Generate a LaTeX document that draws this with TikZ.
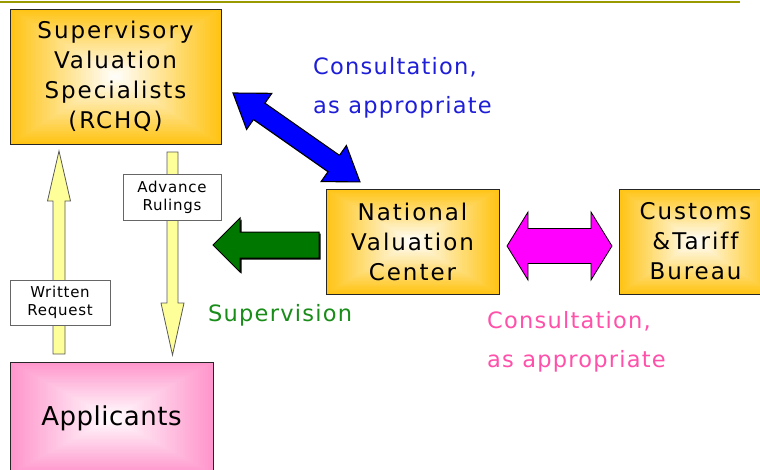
\documentclass[tikz,border=0pt]{standalone}
\usepackage{fontspec}
\setmainfont{DejaVu Sans}
\newfontfamily\boxfont[LetterSpace=8.5,Ligatures=NoCommon]{DejaVu Sans}
\newfontfamily\lblfont[LetterSpace=5.5,Ligatures=NoCommon]{DejaVu Sans}
\newfontfamily\smallfont[LetterSpace=5,Ligatures=NoCommon]{DejaVu Sans}
\newfontfamily\appfont[LetterSpace=2,Ligatures=NoCommon]{DejaVu Sans}
\usetikzlibrary{calc}
\definecolor{boxgold}{RGB}{255,196,20}
\definecolor{boxpink}{RGB}{255,150,204}
\definecolor{topolive}{RGB}{153,153,0}
\definecolor{paleyellow}{RGB}{255,255,153}
\definecolor{txtblue}{RGB}{30,30,215}
\definecolor{txtgreen}{RGB}{25,140,25}
\definecolor{txtpink}{RGB}{255,80,170}
\definecolor{arrgreen}{RGB}{0,120,0}
\definecolor{arrblue}{RGB}{0,0,255}
\definecolor{arrmagenta}{RGB}{255,0,255}
\tikzset{
  rgrad/.style={path picture={
    \foreach \k in {0,...,39}{
      \pgfmathsetmacro\t{\k/40}
      \pgfmathsetmacro\p{100*(1-\t)}
      \fill[#1!\p!white] ($(path picture bounding box.south west)!\t!(path picture bounding box.center)$) rectangle ($(path picture bounding box.north east)!\t!(path picture bounding box.center)$);
    }}},
  goldbox/.style={draw=black!85, line width=1pt, rgrad=boxgold, align=center,
    inner sep=0pt, font={\boxfont\fontsize{23pt}{30pt}\selectfont}},
  pinkbox/.style={draw=black!85, line width=1pt, rgrad=boxpink, align=center,
    inner sep=0pt, font={\appfont\fontsize{26pt}{30pt}\selectfont}},
  labelbox/.style={draw=black!60, line width=0.8pt, fill=white, align=center,
    inner sep=0pt, font={\smallfont\fontsize{15pt}{18pt}\selectfont}},
  yarrow/.style={draw=black!65, line width=0.8pt, fill=paleyellow},
  blockarrow/.style={draw=black, line width=1pt, fill=#1},
  caption/.style={anchor=base west, inner sep=0pt, font={\lblfont\fontsize{22.5pt}{26pt}\selectfont}},
}
\begin{document}
\begin{tikzpicture}[x=1pt,y=-1pt]
\useasboundingbox (0,0) rectangle (760,469);
% top rule
\coordinate (ruleL) at (0,2);
\coordinate (ruleR) at (740,2);
\draw[topolive, line width=2.5pt] (ruleL) -- (ruleR);

% boxes
\node[goldbox, minimum width=211pt, minimum height=135pt] (svs) at (115.5,76.5)
  {Supervisory\\Valuation\\Specialists\\(RCHQ)};
\node[goldbox, minimum width=173pt, minimum height=105pt] (nvc) at (412.5,241.5)
  {National\\Valuation\\Center};
\node[goldbox, minimum width=153pt, minimum height=105pt] (ctb) at (695.5,241.5)
  {Customs\\\&Tariff\\Bureau};
\node[pinkbox, minimum width=203pt, minimum height=112pt] (app) at (111.5,418)
  {Applicants};

% yellow arrows
\draw[yarrow] (59,151) -- (70.5,201) -- (65,201) -- (65,354) -- (53,354) -- (53,201) -- (47.5,201) -- cycle;
\draw[yarrow] (167,152) -- (178,152) -- (178,303) -- (184,303) -- (172.5,355) -- (161,303) -- (167,303) -- cycle;

% label boxes
\node[labelbox, minimum width=98pt, minimum height=46pt] (adv) at (172,197) {Advance\\Rulings};
\node[labelbox, minimum width=100pt, minimum height=45pt] (wr) at (60,302.5) {Written\\Request};

% green arrow (supervision)
\fill[black] (214.5,246.5) -- (241.5,219.5) -- (241.5,233.5) -- (320.5,233.5) -- (320.5,259.5) -- (241.5,259.5) -- (241.5,273.5) -- cycle;
\draw[blockarrow=arrgreen] (213,245) -- (240,218) -- (240,232) -- (319,232) -- (319,258) -- (240,258) -- (240,272) -- cycle;

% magenta double arrow
\draw[blockarrow=arrmagenta, line width=0.8pt] (507,246) -- (528,212) -- (528,228.5) -- (591,228.5) -- (591,212) -- (612,246) -- (591,280) -- (591,263.5) -- (528,263.5) -- (528,280) -- cycle;

% blue double arrow
\begin{scope}[shift={(233,93)}, rotate=-35]
\draw[blockarrow=arrblue, line width=1.1pt] (0,0) -- (32,22) -- (32,10) -- (123,10) -- (123,22) -- (155,0) -- (123,-22) -- (123,-10) -- (32,-10) -- (32,-22) -- cycle;
\end{scope}

% captions
\node[caption, text=txtblue] (c1a) at (313,74) {Consultation,};
\node[caption, text=txtblue] (c1b) at (313,113) {as appropriate};
\node[caption, text=txtgreen] (sup) at (208,321) {Supervision};
\node[caption, text=txtpink] (c2a) at (487,328) {Consultation,};
\node[caption, text=txtpink] (c2b) at (487,367) {as appropriate};
\end{tikzpicture}
\end{document}
